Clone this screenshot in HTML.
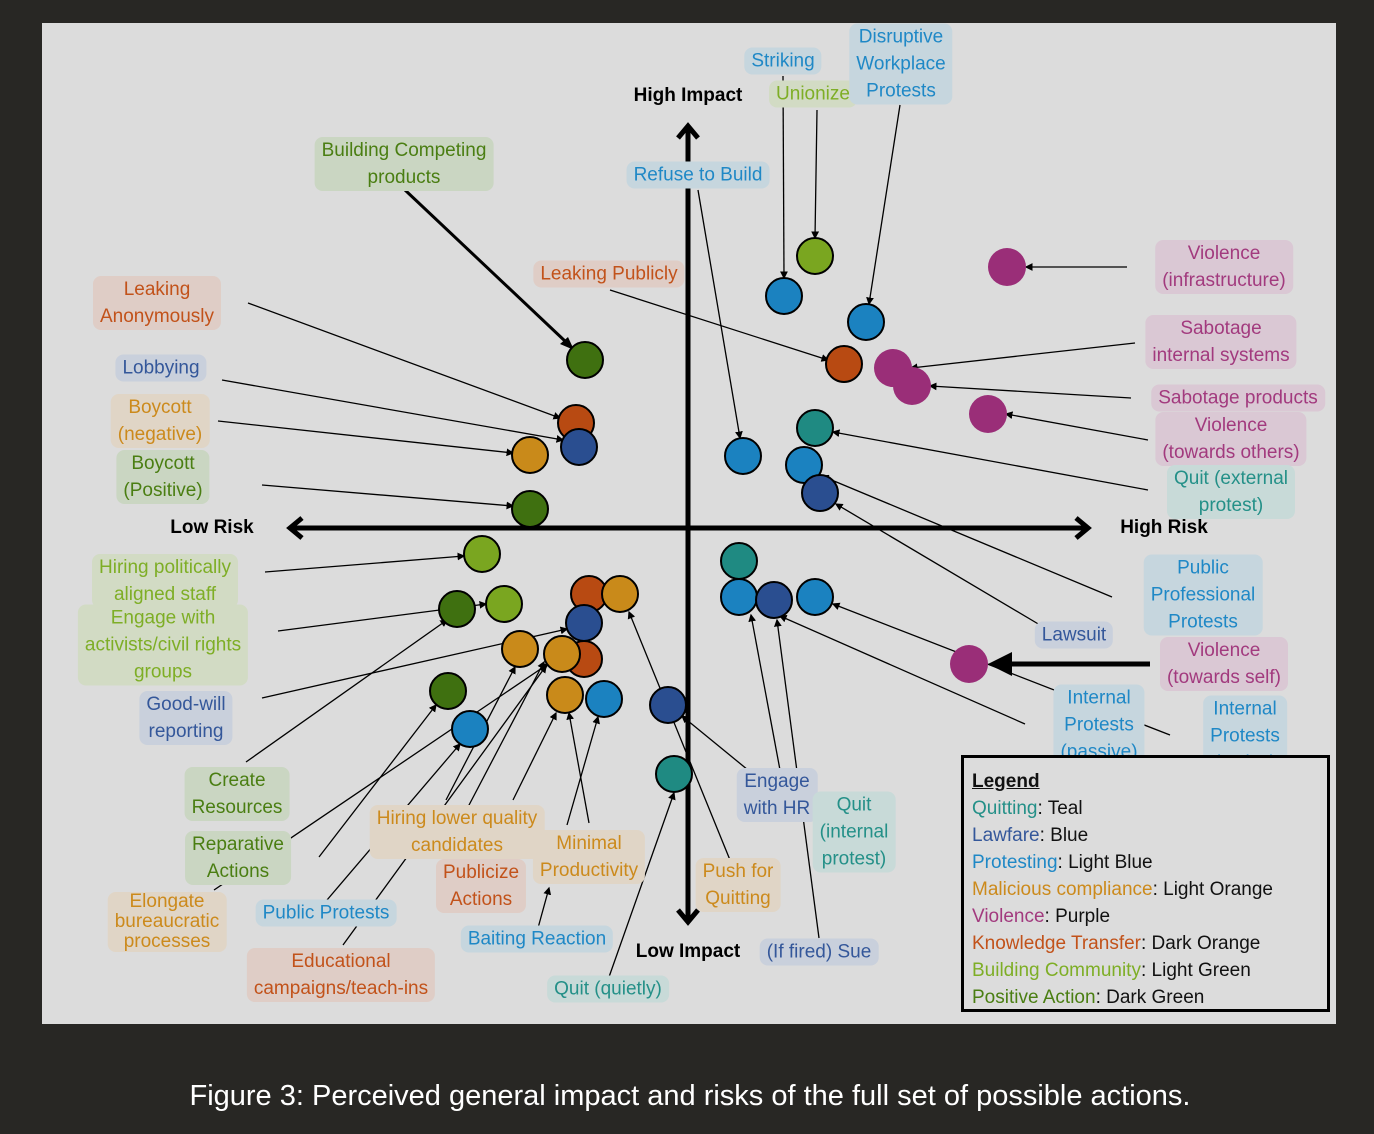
<!DOCTYPE html>
<html><head><meta charset="utf-8"><style>
body{margin:0;width:1374px;height:1134px;background:#282724;position:relative;overflow:hidden;font-family:"Liberation Sans",sans-serif}
#panel{position:absolute;left:42px;top:23px;width:1294px;height:1001px;background:#dcdcdc}
svg{position:absolute;left:0;top:0}
.l{position:absolute;transform:translate(-50%,-50%);text-align:center;font-size:19px;line-height:27px;padding:0 7px;border-radius:8px;white-space:nowrap}
.do{color:#c2521a;background:#dfcdc6}.lo{color:#cc8a1c;background:#e0d5c6}
.dg{color:#4a7e12;background:#cad6c2}.lg{color:#7eae26;background:#d2dbc4}
.b{color:#34579a;background:#c9d0dc}.lb{color:#1f88c6;background:#c6d6de}
.t{color:#249088;background:#c8dad8}.p{color:#a23a7e;background:#dac8d4}
.ax{position:absolute;transform:translate(-50%,-50%);font-weight:bold;font-size:19px;color:#000}
#leg{position:absolute;left:961px;top:755px;width:369px;height:257px;border:3px solid #000;background:#dcdcdc;font-size:19px;line-height:27px;padding:10px 0 0 8px;box-sizing:border-box;color:#111}
#cap{position:absolute;left:0;width:1380px;top:1080px;text-align:center;color:#fff;font-size:29px}
</style></head><body>
<div id="panel"></div>
<svg width="1374" height="1134">
<defs><marker id="a" markerWidth="6" markerHeight="6" refX="5" refY="3" orient="auto"><path d="M0,0L6,3L0,6z" fill="#000"/></marker></defs>
<g stroke="#000" stroke-width="1.3" marker-end="url(#a)" fill="none">
<line x1="248" y1="303" x2="560" y2="418"/>
<line x1="222" y1="380" x2="563" y2="440"/>
<line x1="218" y1="421" x2="513" y2="453"/>
<line x1="262" y1="485" x2="513" y2="506"/>
<line x1="265" y1="572" x2="464" y2="556"/>
<line x1="278" y1="631" x2="486" y2="604"/>
<line x1="262" y1="698" x2="567" y2="629"/>
<line x1="246" y1="762" x2="447" y2="620"/>
<line x1="319" y1="857" x2="436" y2="705"/>
<line x1="327" y1="900" x2="460" y2="744"/>
<line x1="214" y1="890" x2="548" y2="664"/>
<line x1="343" y1="945" x2="546" y2="666"/>
<line x1="446" y1="800" x2="515" y2="667"/>
<line x1="468" y1="807" x2="544" y2="662"/>
<line x1="513" y1="800" x2="556" y2="713"/>
<line x1="567" y1="825" x2="598" y2="717"/>
<line x1="589" y1="823" x2="569" y2="713"/>
<line x1="538" y1="928" x2="549" y2="888"/>
<line x1="609" y1="977" x2="674" y2="793"/>
<line x1="730" y1="860" x2="629" y2="612"/>
<line x1="748" y1="770" x2="682" y2="716"/>
<line x1="780" y1="770" x2="751" y2="615"/>
<line x1="819" y1="938" x2="777" y2="620"/>
<line x1="698" y1="190" x2="740" y2="438"/>
<line x1="610" y1="290" x2="828" y2="360"/>
<line x1="783" y1="76" x2="784" y2="278"/>
<line x1="817" y1="110" x2="815" y2="238"/>
<line x1="900" y1="105" x2="869" y2="304"/>
<line x1="1127" y1="267" x2="1026" y2="267"/>
<line x1="1135" y1="343" x2="911" y2="368"/>
<line x1="1131" y1="398" x2="930" y2="386"/>
<line x1="1148" y1="440" x2="1006" y2="414"/>
<line x1="1148" y1="490" x2="833" y2="432"/>
<line x1="1112" y1="597" x2="822" y2="476"/>
<line x1="1040" y1="625" x2="836" y2="504"/>
<line x1="1025" y1="724" x2="780" y2="616"/>
<line x1="1170" y1="735" x2="833" y2="604"/>
</g>
<line x1="405" y1="190" x2="566" y2="342" stroke="#000" stroke-width="3"/>
<path d="M574,350L560,344L568,337z" fill="#000"/>
<line x1="1150" y1="664" x2="1000" y2="664" stroke="#000" stroke-width="5"/>
<path d="M988,664L1012,652L1012,676z" fill="#000"/>
<g stroke="#000" stroke-width="5" fill="none">
<line x1="292" y1="528" x2="1086" y2="528"/>
<line x1="688" y1="128" x2="688" y2="920"/>
<path d="M302,518L290,528L302,538M1076,518L1088,528L1076,538M678,138L688,126L698,138M678,910L688,922L698,910"/>
</g>
<g stroke="#000" stroke-width="2">
<circle cx="585" cy="360" r="18" fill="#3f7010"/>
<circle cx="576" cy="423" r="18" fill="#b84a12"/>
<circle cx="579" cy="447" r="18" fill="#2a4e90"/>
<circle cx="530" cy="455" r="18" fill="#c98a1a"/>
<circle cx="530" cy="509" r="18" fill="#3f7010"/>
<circle cx="482" cy="554" r="18" fill="#7aa620"/>
<circle cx="457" cy="609" r="18" fill="#3f7010"/>
<circle cx="504" cy="604" r="18" fill="#7aa620"/>
<circle cx="589" cy="594" r="18" fill="#b84a12"/>
<circle cx="584" cy="659" r="18" fill="#b84a12"/>
<circle cx="620" cy="594" r="18" fill="#c98a1a"/>
<circle cx="584" cy="623" r="18" fill="#2a4e90"/>
<circle cx="520" cy="649" r="18" fill="#c98a1a"/>
<circle cx="562" cy="654" r="18" fill="#c98a1a"/>
<circle cx="448" cy="691" r="18" fill="#3f7010"/>
<circle cx="470" cy="729" r="18" fill="#1b82c0"/>
<circle cx="565" cy="695" r="18" fill="#c98a1a"/>
<circle cx="604" cy="699" r="18" fill="#1b82c0"/>
<circle cx="668" cy="705" r="18" fill="#2a4e90"/>
<circle cx="674" cy="774" r="18" fill="#1f8a82"/>
<circle cx="815" cy="256" r="18" fill="#7aa620"/>
<circle cx="784" cy="296" r="18" fill="#1b82c0"/>
<circle cx="866" cy="322" r="18" fill="#1b82c0"/>
<circle cx="844" cy="364" r="18" fill="#b84a12"/>
<circle cx="815" cy="428" r="18" fill="#1f8a82"/>
<circle cx="743" cy="456" r="18" fill="#1b82c0"/>
<circle cx="804" cy="465" r="18" fill="#1b82c0"/>
<circle cx="820" cy="493" r="18" fill="#2a4e90"/>
<circle cx="739" cy="561" r="18" fill="#1f8a82"/>
<circle cx="739" cy="597" r="18" fill="#1b82c0"/>
<circle cx="774" cy="600" r="18" fill="#2a4e90"/>
<circle cx="815" cy="597" r="18" fill="#1b82c0"/>
</g>
<g fill="#9a2e78">
<circle cx="1007" cy="267" r="19"/><circle cx="893" cy="368" r="19"/><circle cx="912" cy="386" r="19"/><circle cx="988" cy="414" r="19"/><circle cx="969" cy="664" r="19"/>
</g>
</svg>
<div class="ax" style="left:688px;top:96px">High Impact</div>
<div class="ax" style="left:688px;top:952px">Low Impact</div>
<div class="ax" style="left:212px;top:528px">Low Risk</div>
<div class="ax" style="left:1164px;top:528px">High Risk</div>

<div class="l dg" style="left:404px;top:164px">Building Competing<br>products</div>
<div class="l do" style="left:157px;top:303px">Leaking<br>Anonymously</div>
<div class="l b" style="left:161px;top:368px">Lobbying</div>
<div class="l lo" style="left:160px;top:421px">Boycott<br>(negative)</div>
<div class="l dg" style="left:163px;top:477px">Boycott<br>(Positive)</div>
<div class="l lg" style="left:165px;top:581px">Hiring politically<br>aligned staff</div>
<div class="l lg" style="left:163px;top:645px">Engage with<br>activists/civil rights<br>groups</div>
<div class="l b" style="left:186px;top:718px">Good-will<br>reporting</div>
<div class="l dg" style="left:237px;top:794px">Create<br>Resources</div>
<div class="l dg" style="left:238px;top:858px">Reparative<br>Actions</div>
<div class="l lo" style="left:167px;top:922px;line-height:20px">Elongate<br>bureaucratic<br>processes</div>
<div class="l lb" style="left:326px;top:913px">Public Protests</div>
<div class="l do" style="left:341px;top:975px">Educational<br>campaigns/teach-ins</div>
<div class="l lo" style="left:457px;top:832px">Hiring lower quality<br>candidates</div>
<div class="l do" style="left:481px;top:886px">Publicize<br>Actions</div>
<div class="l lo" style="left:589px;top:857px">Minimal<br>Productivity</div>
<div class="l lb" style="left:537px;top:939px">Baiting Reaction</div>
<div class="l t" style="left:608px;top:989px">Quit (quietly)</div>
<div class="l lo" style="left:738px;top:885px">Push for<br>Quitting</div>
<div class="l b" style="left:777px;top:795px">Engage<br>with HR</div>
<div class="l t" style="left:854px;top:832px">Quit<br>(internal<br>protest)</div>
<div class="l b" style="left:819px;top:952px">(If fired) Sue</div>
<div class="l lb" style="left:698px;top:175px">Refuse to Build</div>
<div class="l do" style="left:609px;top:274px">Leaking Publicly</div>
<div class="l lb" style="left:783px;top:61px">Striking</div>
<div class="l lg" style="left:813px;top:94px">Unionize</div>
<div class="l lb" style="left:901px;top:64px">Disruptive<br>Workplace<br>Protests</div>
<div class="l p" style="left:1224px;top:267px">Violence<br>(infrastructure)</div>
<div class="l p" style="left:1221px;top:342px">Sabotage<br>internal systems</div>
<div class="l p" style="left:1238px;top:398px">Sabotage products</div>
<div class="l p" style="left:1231px;top:439px">Violence<br>(towards others)</div>
<div class="l t" style="left:1231px;top:492px">Quit (external<br>protest)</div>
<div class="l lb" style="left:1203px;top:595px">Public<br>Professional<br>Protests</div>
<div class="l b" style="left:1074px;top:635px">Lawsuit</div>
<div class="l p" style="left:1224px;top:664px">Violence<br>(towards self)</div>
<div class="l lb" style="left:1099px;top:725px">Internal<br>Protests<br>(passive)</div>
<div class="l lb" style="left:1245px;top:736px">Internal<br>Protests<br>(active)</div>

<div id="leg"><b><u>Legend</u></b><br>
<span style="color:#249088">Quitting</span>: Teal<br>
<span style="color:#34579a">Lawfare</span>: Blue<br>
<span style="color:#1f88c6">Protesting</span>: Light Blue<br>
<span style="color:#cc8a1c">Malicious compliance</span>: Light Orange<br>
<span style="color:#a23a7e">Violence</span>: Purple<br>
<span style="color:#c2521a">Knowledge Transfer</span>: Dark Orange<br>
<span style="color:#7eae26">Building Community</span>: Light Green<br>
<span style="color:#4a7e12">Positive Action</span>: Dark Green</div>
<div id="cap">Figure 3: Perceived general impact and risks of the full set of possible actions.</div>
</body></html>
